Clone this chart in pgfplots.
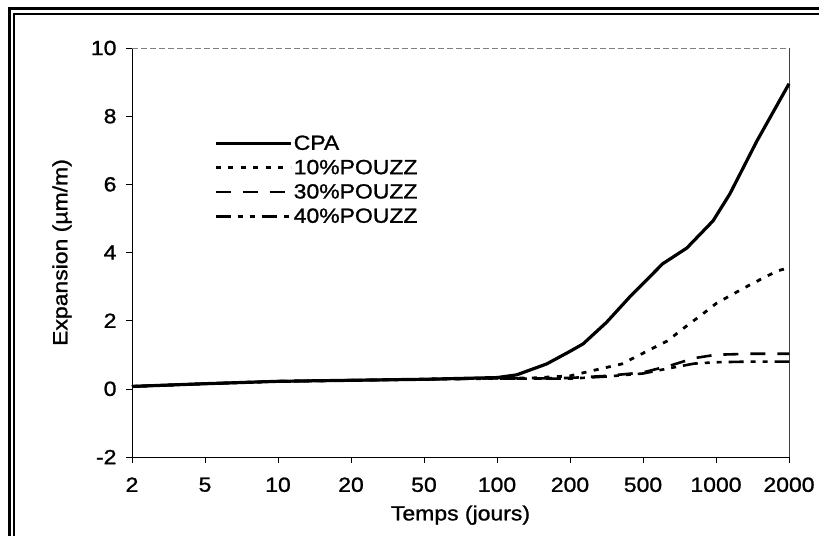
\documentclass[border=0pt]{standalone}
\usepackage{fontspec}
\setmainfont{Liberation Sans}[FakeStretch=1.12,FakeBold=1.2]
\usepackage{pgfplots}
\pgfplotsset{compat=1.18}
\newcommand{\chfont}{\fontsize{20.5bp}{24bp}\selectfont}
\begin{document}
\begin{tikzpicture}[x=1bp,y=1bp]
\useasboundingbox (0,0) rectangle (819,536);
\fill[white] (0,0) rectangle (819,536);
% figure frame (left and top)
\draw[line width=3bp] (9,0) -- (9,527) -- (819,527);
\draw[line width=1.3bp] (14,0) -- (14,522) -- (819,522);
\begin{axis}[
  at={(132bp,79bp)}, anchor=south west,
  scale only axis, width=657bp, height=409bp,
  xmin=0, xmax=9, ymin=-2, ymax=10,
  xtick={0,1,2,3,4,5,6,7,8,9},
  xticklabels={2,5,10,20,50,100,200,500,1000,2000},
  ytick={-2,0,2,4,6,8,10},
  /pgf/number format/assume math mode=true,
  tick pos=left, tick align=outside,
  major tick length=6bp,
  tick style={black, line width=0.6bp},
  axis line style={draw=none},
  ticklabel style={font=\chfont},
  yticklabel style={xshift=-6bp},
  xticklabel style={yshift=-11bp},
  xlabel={Temps (jours)},
  ylabel={Expansion (µm/m)},
  label style={font=\chfont},
  x label style={at={(axis description cs:0.5,0)}, anchor=north, yshift=-45bp},
  y label style={at={(axis description cs:0,0.5)}, anchor=center, yshift=70bp},
  legend style={draw=none, fill=none, font=\chfont,
    at={(axis description cs:0.12,0.795)}, anchor=north west,
    row sep=5.5bp, nodes={inner sep=1.5bp}},
  legend cell align=left,
  legend image code/.code={\draw[#1] (0bp,0bp) -- (75bp,0bp);},
  clip=false,
]
% axis box lines
\draw[black, line width=0.9bp] (rel axis cs:0,1) -- (rel axis cs:0,0) -- (rel axis cs:1,0);
\draw[gray, line width=0.7bp, dash pattern=on 6bp off 3bp] (rel axis cs:0,1) -- (rel axis cs:1,1);
\draw[darkgray, line width=0.7bp] (rel axis cs:1,1) -- (rel axis cs:1,0);

\addplot[black, line width=3.2bp, line join=round] coordinates {
(0,0.07) (0.5,0.11) (1,0.15) (2,0.22) (3,0.25) (4,0.28) (5,0.33)
(5.27,0.41) (5.68,0.73) (6,1.1) (6.18,1.32) (6.5,1.95) (6.82,2.7)
(7.27,3.67) (7.6,4.13) (7.96,4.93) (8.19,5.72) (8.56,7.27) (9,8.95)};
\addlegendentry{CPA}

\addplot[black, line width=2.8bp, dash pattern=on 5bp off 7.5bp, line join=round] coordinates {
(0,0.07) (1,0.15) (2,0.22) (3,0.25) (4,0.28) (5,0.32) (5.5,0.32)
(6,0.38) (6.3,0.53) (6.71,0.73) (7.05,1.1) (7.33,1.4) (7.6,1.85)
(7.82,2.2) (8,2.5) (8.19,2.73) (8.49,3.08) (8.84,3.46) (9,3.55)};
\addlegendentry{10\%POUZZ}

\addplot[black, line width=2.6bp, dash pattern=on 15bp off 12bp, line join=round] coordinates {
(0,0.07) (1,0.15) (2,0.22) (3,0.25) (4,0.28) (5,0.31) (5.5,0.3)
(6,0.32) (6.5,0.38) (7,0.48) (7.4,0.7) (7.7,0.9) (8,1.0) (8.5,1.03) (9,1.03)};
\addlegendentry{30\%POUZZ}

\addplot[black, line width=2.6bp, dash pattern=on 15bp off 7bp on 5bp off 7bp on 5bp off 7bp, line join=round] coordinates {
(0,0.07) (1,0.15) (2,0.22) (3,0.25) (4,0.28) (5,0.3) (5.5,0.3)
(6,0.3) (6.5,0.36) (7,0.45) (7.4,0.62) (7.7,0.74) (8,0.78) (8.5,0.8) (9,0.8)};
\addlegendentry{40\%POUZZ}
\end{axis}
\end{tikzpicture}
\end{document}
